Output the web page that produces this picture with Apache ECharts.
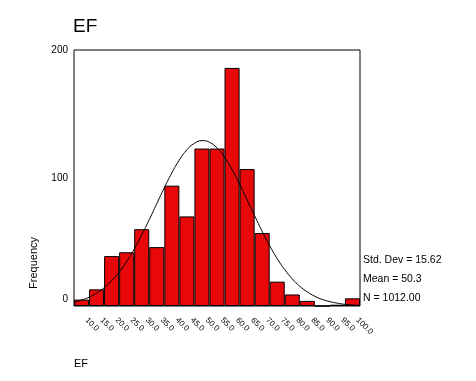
<!DOCTYPE html>
<html>
<head>
<meta charset="utf-8">
<script src="https://cdn.jsdelivr.net/npm/echarts@6/dist/echarts.min.js"></script>
<style>html,body{margin:0;padding:0;background:#fff}#c{width:476px;height:381px}</style>
</head>
<body>
<div id="c"></div>
<script>
// bin centres (x-axis tick labels)
const categories = ['10.0','15.0','20.0','25.0','30.0','35.0','40.0','45.0','50.0','55.0','60.0','65.0','70.0','75.0','80.0','85.0','90.0','95.0','100.0'];
// frequencies
const frequencies = [5, 13, 39, 42, 60, 46, 94, 70, 123, 123, 186, 107, 57, 19, 9, 4, 0, 1, 6];
// fitted normal curve at these x positions
const curveX = [7.5,10,12.5,15,17.5,20,22.5,25,27.5,30,32.5,35,37.5,40,42.5,45,47.5,50,52.5,55,57.5,60,62.5,65,67.5,70,72.5,75,77.5,80,82.5,85,87.5,90,92.5,95,97.5,100,102.5];
const curveY = [3.0,4.6,6.9,10.1,14.2,19.7,26.5,34.8,44.5,55.5,67.5,80.0,92.4,104.0,114.1,122.0,127.1,129.2,127.9,123.5,116.2,106.5,95.2,83.0,70.5,58.3,47.1,37.0,28.4,21.2,15.4,11.0,7.6,5.1,3.4,2.2,1.3,0.8,0.5];
const yTicks = [0, 100, 200];
const statLines = ['Std. Dev = 15.62', 'Mean = 50.3', 'N = 1012.00'];

const FONT = 'Liberation Sans, Arial, sans-serif';
const chart = echarts.init(document.getElementById('c'), null, {renderer: 'canvas'});
chart.setOption({
  animation: false,
  backgroundColor: '#ffffff',
  title: {
    text: 'EF', left: 73, top: 17, padding: 0,
    textStyle: {fontFamily: FONT, fontSize: 19, fontWeight: 'normal', color: '#000'}
  },
  grid: {left: 74, right: 116, top: 50, bottom: 75, show: true, borderColor: '#000', borderWidth: 1, backgroundColor: '#fff'},
  xAxis: [{
    type: 'category', data: categories, boundaryGap: true,
    axisLine: {show: false}, axisTick: {show: false}, splitLine: {show: false},
    axisLabel: {rotate: -45, interval: 0, margin: 8, padding: [0, 0, 0, 7], fontFamily: FONT, fontSize: 8, color: '#000'}
  }, {
    type: 'value', min: 7.5, max: 102.5, show: false
  }],
  yAxis: {
    type: 'value', min: yTicks[0], max: yTicks[yTicks.length - 1], interval: 100,
    axisLine: {show: false}, axisTick: {show: false}, splitLine: {show: false},
    axisLabel: {
      margin: 6, fontFamily: FONT, fontSize: 10, color: '#000',
      formatter: v => v === 0 ? '{z|0}' : String(v),
      rich: {z: {fontFamily: FONT, fontSize: 10, color: '#000', padding: [0, 0, 14, 0]}}
    }
  },
  series: [{
    type: 'bar', xAxisIndex: 0, data: frequencies, barCategoryGap: '0%',
    itemStyle: {color: '#e8080a', borderColor: '#000', borderWidth: 1},
    silent: true
  }, {
    type: 'line', xAxisIndex: 1, data: curveX.map((x, i) => [x, curveY[i]]),
    smooth: true, showSymbol: false, lineStyle: {color: '#000', width: 1}, silent: true
  }],
  graphic: [
    {type: 'text', left: 28, top: 237, rotation: Math.PI / 2, style: {text: 'Frequency', font: '11px ' + FONT, fill: '#000'}},
    {type: 'text', left: 74, top: 358, style: {text: 'EF', font: '11px ' + FONT, fill: '#000'}},
    {type: 'text', left: 363, top: 255, style: {text: statLines[0], font: '10.5px ' + FONT, fill: '#000'}},
    {type: 'text', left: 363, top: 274, style: {text: statLines[1], font: '10.5px ' + FONT, fill: '#000'}},
    {type: 'text', left: 363, top: 293, style: {text: statLines[2], font: '10.5px ' + FONT, fill: '#000'}}
  ]
});
</script>
</body>
</html>
